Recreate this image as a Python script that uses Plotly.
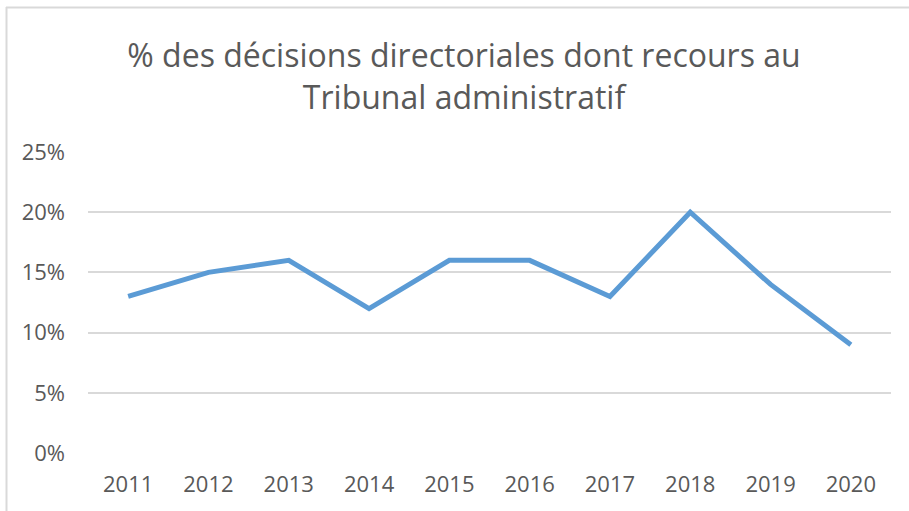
import plotly.graph_objects as go

years = ["2011", "2012", "2013", "2014", "2015", "2016", "2017", "2018", "2019", "2020"]
pct = [0.13, 0.15, 0.16, 0.12, 0.16, 0.16, 0.13, 0.20, 0.14, 0.09]
y_ticks = [0, 0.05, 0.10, 0.15, 0.20, 0.25]
y_labels = ["0%", "5%", "10%", "15%", "20%", "25%"]
title_text = "% des décisions directoriales dont recours au<br>Tribunal administratif"

W, H = 909, 511
L, R, T, B = 88, 18, 152, 58
pw, ph = W - L - R, H - T - B

def px_x(p):
    return (p - L) / pw

def px_y(p):
    return (H - B - p) / ph

fig = go.Figure()
fig.add_trace(go.Scatter(
    x=years, y=pct, mode="lines",
    line=dict(color="#5B9BD5", width=5, shape="linear"),
    hoverinfo="skip", showlegend=False,
))

font = "Open Sans, Lato, sans-serif"
fig.update_layout(
    width=W, height=H,
    margin=dict(l=L, r=R, t=T, b=B),
    paper_bgcolor="white", plot_bgcolor="white",
    title=dict(text=title_text, x=464 / W, xref="container", xanchor="center",
               y=1 - 67 / H, yref="container", yanchor="middle",
               font=dict(family=font, size=32, color="#595959")),
    xaxis=dict(type="category", range=[-0.5, 9.5], showgrid=False, zeroline=False,
               showline=False, ticks="", tickfont=dict(family=font, size=22, color="#595959"),
               ticklabelstandoff=16, fixedrange=True),
    yaxis=dict(range=[0, 0.25], tickvals=y_ticks, ticktext=y_labels,
               showgrid=True, gridcolor="#D9D9D9", gridwidth=1.5, zeroline=False,
               showline=False, ticks="", tickfont=dict(family=font, size=22, color="#595959"),
               ticklabelstandoff=22, fixedrange=True),
    shapes=[
        dict(type="line", xref="paper", yref="paper",
             x0=px_x(6), x1=px_x(W + 5), y0=px_y(7.5), y1=px_y(7.5),
             line=dict(color="#D9D9D9", width=2)),
        dict(type="line", xref="paper", yref="paper",
             x0=px_x(6.5), x1=px_x(6.5), y0=px_y(7), y1=px_y(H + 5),
             line=dict(color="#D9D9D9", width=2)),
    ],
)

fig.write_html("out.html", config={"displayModeBar": False},
               post_script="document.body.style.margin='0';document.body.style.overflow='hidden';")
